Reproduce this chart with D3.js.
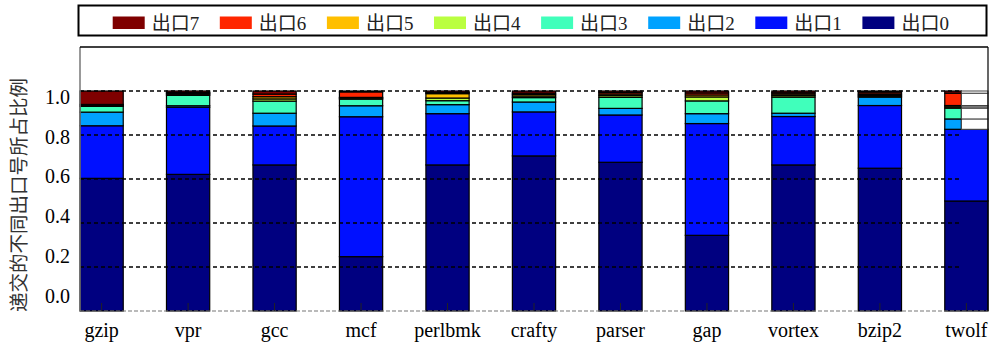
<!DOCTYPE html>
<html>
<head>
<meta charset="utf-8">
<script src="https://cdn.jsdelivr.net/npm/d3@7"></script>
<style>
  html, body { margin: 0; padding: 0; background: #fff; }
  svg { display: block; }
  .serif { font-family: "Liberation Serif", "Times New Roman", "Noto Sans CJK SC", serif; }
</style>
</head>
<body>
<svg id="chart" width="990" height="344"></svg>
<script>
// Benchmarks on the x axis
const categories = ["gzip", "vpr", "gcc", "mcf", "perlbmk", "crafty", "parser", "gap", "vortex", "bzip2", "twolf"];

// Share of committed instructions per exit port (stacked bottom to top: 出口0 .. 出口7)
const exit0 = [0.603, 0.621, 0.664, 0.247, 0.664, 0.705, 0.676, 0.344, 0.664, 0.649, 0.500];
const exit1 = [0.239, 0.305, 0.177, 0.636, 0.233, 0.200, 0.215, 0.508, 0.220, 0.285, 0.326];
const exit2 = [0.062, 0.007, 0.058, 0.050, 0.041, 0.045, 0.030, 0.045, 0.015, 0.038, 0.047];
const exit3 = [0.026, 0.047, 0.055, 0.030, 0.018, 0.020, 0.050, 0.058, 0.073, 0.005, 0.049];
const exit4 = [0.003, 0.005, 0.010, 0.004, 0.012, 0.007, 0.008, 0.018, 0.007, 0.005, 0.006];
const exit5 = [0.003, 0.004, 0.010, 0.004, 0.020, 0.007, 0.007, 0.009, 0.007, 0.005, 0.006];
const exit6 = [0.003, 0.004, 0.012, 0.025, 0.005, 0.006, 0.007, 0.009, 0.006, 0.008, 0.056];
const exit7 = [0.061, 0.007, 0.014, 0.004, 0.007, 0.010, 0.007, 0.009, 0.008, 0.005, 0.010];

const seriesNames = ["出口0", "出口1", "出口2", "出口3", "出口4", "出口5", "出口6", "出口7"];
const seriesColors = ["#000080", "#0010ff", "#00a2ff", "#40ffbb", "#baff40", "#ffbf00", "#ff2600", "#7f0000"];
const yTicks = [0.0, 0.2, 0.4, 0.6, 0.8, 1.0];
const yTitle = "递交的不同出口号所占比例";

// The last bar's upper segments are only half painted
const halfPaintedCategory = "twolf";
const halfPaintedFromSeries = 2;

const seriesValues = [exit0, exit1, exit2, exit3, exit4, exit5, exit6, exit7];
const rows = categories.map((c, i) => {
  const r = { name: c };
  seriesNames.forEach((s, k) => { r[s] = seriesValues[k][i]; });
  return r;
});

const svg = d3.select("#chart");
const plot = { left: 80, right: 988, top: 47, bottom: 311 };

const x = d3.scaleBand().domain(categories).range([plot.left, plot.right]).paddingInner(0.5).paddingOuter(0);
const y = d3.scaleLinear().domain([0, 1.2]).range([plot.bottom, plot.top]);
// tick labels sit on their own, slightly tighter, ladder
const yLabel = d3.scaleLinear().domain([0, 1]).range([295.5, 97]);

const layers = d3.stack().keys(seriesNames)(rows);

// bars
const gBars = svg.append("g");
layers.forEach((layer, k) => {
  const g = gBars.append("g").attr("fill", seriesColors[k]);
  layer.forEach(d => {
    const cat = d.data.name;
    const x0 = x(cat), w = x.bandwidth();
    const yTop = y(d[1]), h = y(d[0]) - y(d[1]);
    if (cat === halfPaintedCategory && k >= halfPaintedFromSeries) {
      g.append("rect").attr("x", x0).attr("y", yTop).attr("width", w * 0.385).attr("height", h)
        .attr("stroke", "#000").attr("stroke-width", 1.2);
      g.append("rect").attr("x", x0 + w * 0.385).attr("y", yTop).attr("width", w * 0.615).attr("height", h)
        .attr("fill", "#fff").attr("stroke", "#444").attr("stroke-width", 1);
    } else {
      g.append("rect").attr("x", x0).attr("y", yTop).attr("width", w).attr("height", h)
        .attr("stroke", "#000").attr("stroke-width", 1.2);
    }
  });
});

// dashed grid over the bars
const gridRight = 961;
svg.append("g").selectAll("line").data(yTicks.filter(t => t > 0)).join("line")
  .attr("x1", plot.left).attr("x2", gridRight)
  .attr("y1", d => y(d)).attr("y2", d => y(d))
  .attr("stroke", "#000").attr("stroke-width", 1.3).attr("stroke-dasharray", "4,3");

// baseline
svg.append("line").attr("x1", plot.left).attr("x2", plot.right)
  .attr("y1", y(0)).attr("y2", y(0))
  .attr("stroke", "#777").attr("stroke-width", 1.2).attr("stroke-dasharray", "4,2");

// frame
svg.append("line").attr("x1", plot.left).attr("x2", plot.left).attr("y1", plot.top).attr("y2", plot.bottom)
  .attr("stroke", "#777").attr("stroke-width", 1.5);
svg.append("line").attr("x1", plot.left).attr("x2", plot.right).attr("y1", plot.top).attr("y2", plot.top)
  .attr("stroke", "#000").attr("stroke-width", 1.5);
svg.append("line").attr("x1", plot.right).attr("x2", plot.right).attr("y1", plot.top).attr("y2", plot.bottom)
  .attr("stroke", "#000").attr("stroke-width", 1.2);

// x ticks (inside) and labels
const xAxis = svg.append("g").attr("transform", `translate(0,${plot.bottom})`)
  .call(d3.axisBottom(x).tickSize(-8).tickPadding(12).tickSizeOuter(0));
xAxis.attr("font-family", null).attr("font-size", null);
xAxis.select(".domain").remove();
xAxis.selectAll(".tick line").attr("stroke", "#222").attr("stroke-width", 1);
xAxis.selectAll(".tick text").attr("class", "serif")
  .style("font-size", "20px").attr("fill", "#000").attr("dy", "0.72em");

// y tick labels
svg.append("g").selectAll("text").data(yTicks).join("text")
  .attr("class", "serif")
  .attr("x", 70).attr("y", d => yLabel(d))
  .attr("text-anchor", "end").attr("dominant-baseline", "central")
  .style("font-size", "20px").attr("fill", "#000")
  .text(d => d3.format(".1f")(d));

// y title
svg.append("text")
  .attr("transform", "translate(17,195) rotate(-90)")
  .attr("text-anchor", "middle").attr("dominant-baseline", "central")
  .style("font-family", "'Noto Sans CJK SC', sans-serif").style("font-size", "19.5px").attr("fill", "#333")
  .text(yTitle);

// legend
const legend = svg.append("g");
legend.append("rect").attr("x", 78.5).attr("y", 5.5).attr("width", 908).attr("height", 30)
  .attr("fill", "#fff").attr("stroke", "#000").attr("stroke-width", 2);
const legendOrder = d3.range(seriesNames.length).reverse();
const legendX = d3.scalePoint().domain(legendOrder).range([112.7, 862.4]);
legendOrder.forEach(k => {
  const lx = legendX(k);
  legend.append("rect").attr("x", lx).attr("y", 16.5).attr("width", 32).attr("height", 12.5)
    .attr("fill", seriesColors[k]);
  legend.append("text").attr("class", "serif").attr("x", lx + 39).attr("y", 23.5)
    .attr("dominant-baseline", "central").style("font-size", "19px").attr("fill", "#222")
    .text(seriesNames[k]);
});
</script>
</body>
</html>
